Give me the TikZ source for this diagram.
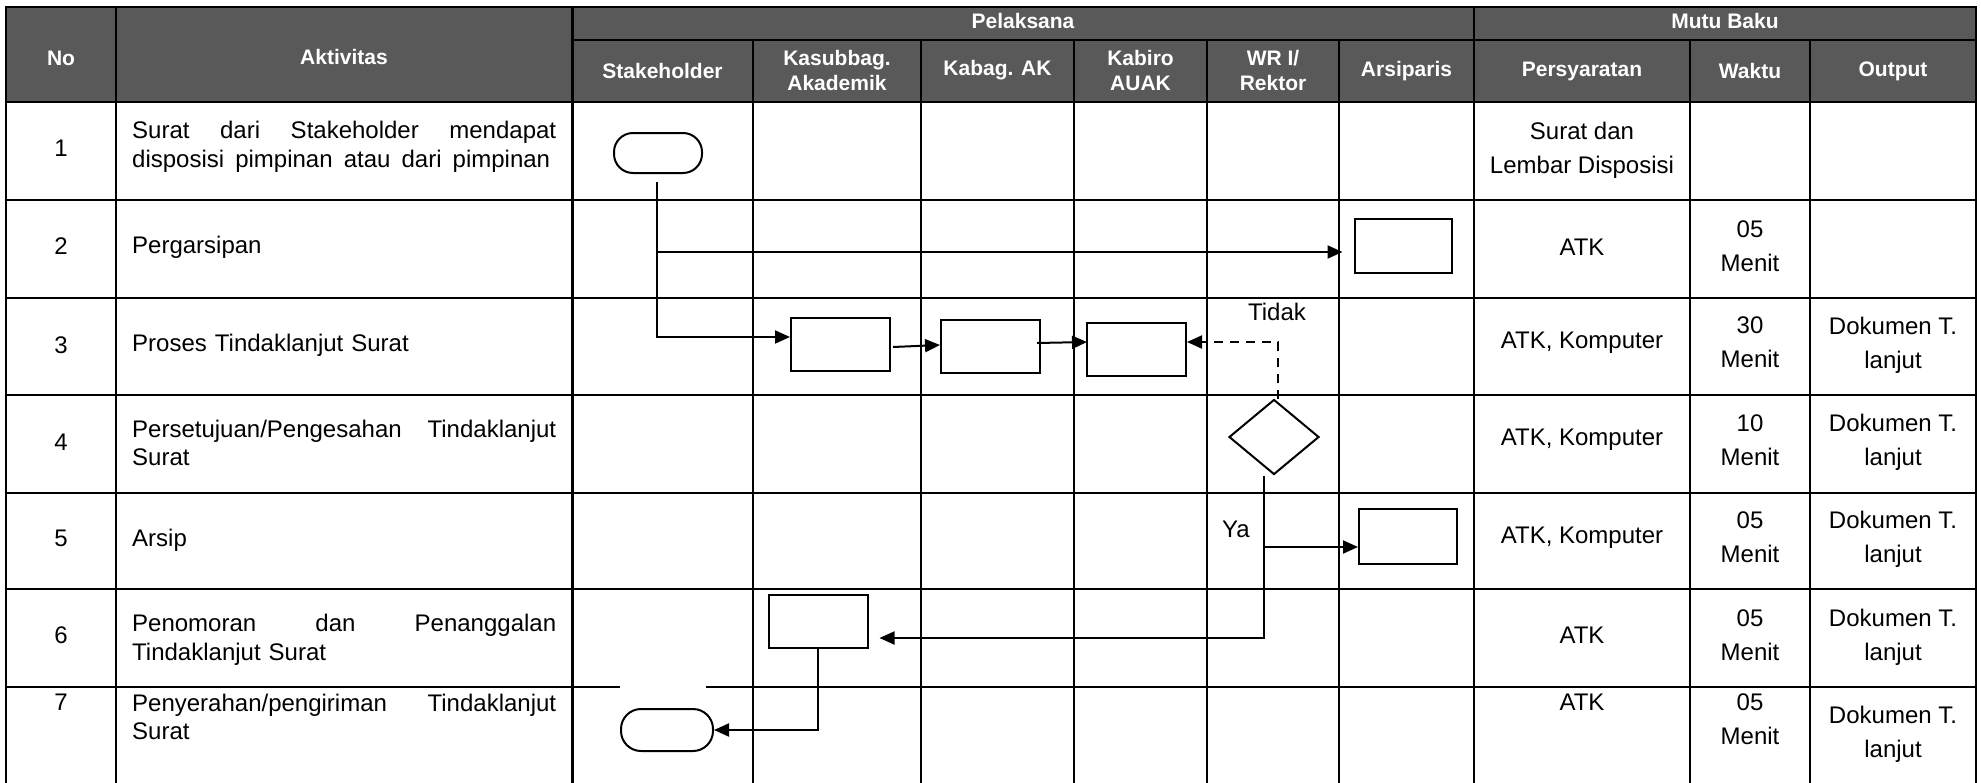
\documentclass[tikz,border=0pt]{standalone}
\usepackage{fontspec}
\setmainfont{Liberation Sans}
\usetikzlibrary{arrows.meta,shapes.geometric,calc}
\definecolor{hdr}{RGB}{89,89,89}
\newcommand{\spreadline}[2]{\leavevmode\hbox to #1{#2}}
\tikzset{
  grid/.style={line width=2.2pt, black, line cap=rect},
  hd/.style={text=white, font=\fontsize{21}{25}\selectfont\bfseries, align=center, inner sep=0pt},
  bd/.style={font=\fontsize{24}{34}\selectfont, align=center, inner sep=0pt},
  act/.style={font=\fontsize{24}{28.5}\selectfont, align=left, text width=424pt, anchor=west, inner sep=0pt},
  proc/.style={draw, line width=2pt, minimum width=99pt, minimum height=53pt, inner sep=0pt},
  term/.style={draw, line width=2pt, rounded corners=19pt, minimum width=88pt, minimum height=40pt, inner sep=0pt},
  dec/.style={draw, diamond, line width=2pt, minimum width=90pt, minimum height=75pt, inner sep=0pt},
  link/.style={line width=2pt},
  flow/.style={line width=2pt, -{Triangle[length=15pt,width=13pt]}},
  dsh/.style={line width=2pt, dash pattern=on 9pt off 7pt},
}
\begin{document}
\begin{tikzpicture}[x=1pt, y=-1pt]
\useasboundingbox (0,0) rectangle (1981,782);

% header band
\fill[hdr] (6,7) rectangle (1976,102);

% table rules
\foreach \y in {7,102,200,298,395,493,589,687}
  \draw[grid] (6,\y) -- (1976,\y);
\draw[grid] (572.5,40) -- (1976,40);
\foreach \x in {6,116,572.5,1474,1976}
  \draw[grid] (\x,7) -- (\x,782);
\foreach \x in {753,921,1074,1207,1339,1690,1810}
  \draw[grid] (\x,40) -- (\x,782);
% break in the rule above row 7
\draw[white, line width=3.4pt] (620,687) -- (706,687);

% header texts
\node[hd] (hNo)  at (61,58)    {No};
\node[hd] (hAkt) at (344,57)   {Aktivitas};
\node[hd] (hPel) at (1023,21) {Pelaksana};
\node[hd] (hMut) at (1725,21) {Mutu Baku};
\node[hd] (hSt)  at (662.5,71) {Stakeholder};
\node[hd] (hKs)  at (837,70)   {Kasubbag.\\Akademik};
\node[hd] (hKb)  at (997.5,70) {Kabag. AK};
\node[hd] (hKr)  at (1140.5,70) {Kabiro\\AUAK};
\node[hd] (hWr)  at (1273,70)  {WR I/\\Rektor};
\node[hd] (hAr)  at (1406.5,71) {Arsiparis};
\node[hd] (hPs)  at (1582,71)  {Persyaratan};
\node[hd] (hWk)  at (1750,71)  {Waktu};
\node[hd] (hOu)  at (1893,71)  {Output};

% row numbers
\node[bd] (n1) at (61,148) {1};
\node[bd] (n2) at (61,246) {2};
\node[bd] (n3) at (61,345) {3};
\node[bd] (n4) at (61,442) {4};
\node[bd] (n5) at (61,538) {5};
\node[bd] (n6) at (61,635) {6};
\node[bd] (n7) at (61,702) {7};

% activities
\node[act] (a1) at (132,147) {\spreadline{424pt}{Surat\hfill dari\hfill Stakeholder\hfill mendapat}\\\spreadline{418pt}{disposisi\hfill pimpinan\hfill atau\hfill dari\hfill pimpinan}};
\node[act] (a2) at (132,247) {Pergarsipan};
\node[act] (a3) at (132,345) {Proses Tindaklanjut Surat};
\node[act] (a4) at (132,443) {\spreadline{424pt}{Persetujuan/Pengesahan\hfill Tindaklanjut}\\Surat};
\node[act] (a5) at (132,540) {Arsip};
\node[act] (a6) at (132,640) {\spreadline{424pt}{Penomoran\hfill dan\hfill Penanggalan}\\Tindaklanjut Surat};
\node[act] (a7) at (132,717) {\spreadline{424pt}{Penyerahan/pengiriman\hfill Tindaklanjut}\\Surat};

% requirements
\node[bd] (p1) at (1582,150.5) {Surat dan\\Lembar Disposisi};
\node[bd] (p2) at (1582,247) {ATK};
\node[bd] (p3) at (1582,343) {ATK, Komputer};
\node[bd] (p4) at (1582,440) {ATK, Komputer};
\node[bd] (p5) at (1582,538) {ATK, Komputer};
\node[bd] (p6) at (1582,635) {ATK};
\node[bd] (p7) at (1582,702) {ATK};

% time
\node[bd] (w2) at (1750,246)   {05\\Menit};
\node[bd] (w3) at (1750,342.5) {30\\Menit};
\node[bd] (w4) at (1750,440)   {10\\Menit};
\node[bd] (w5) at (1750,537.5) {05\\Menit};
\node[bd] (w6) at (1750,635.5) {05\\Menit};
\node[bd] (w7) at (1750,719.5) {05\\Menit};

% output
\node[bd] (o3) at (1893,345)   {Dokumen T.\\lanjut};
\node[bd] (o4) at (1893,442)   {Dokumen T.\\lanjut};
\node[bd] (o5) at (1893,539.5) {Dokumen T.\\lanjut};
\node[bd] (o6) at (1893,637.5) {Dokumen T.\\lanjut};
\node[bd] (o7) at (1893,734.5) {Dokumen T.\\lanjut};

% flow shapes
\node[term] (T1) at (658,153) {};
\node[proc, minimum width=97pt, minimum height=54pt] (A1) at (1403,246) {};
\node[proc] (K1) at (840.5,344.5) {};
\node[proc] (B2) at (990.5,346.5) {};
\node[proc] (B3) at (1136.5,349.5) {};
\node[dec] (D) at (1274,437) {};
\node[proc, minimum width=98pt, minimum height=55pt] (A2) at (1408,536.5) {};
\node[proc] (K6) at (818,621.5) {};
\node[term, minimum width=92pt, minimum height=42pt, rounded corners=20pt] (T2) at (667,730) {};

% branch labels
\node[bd] (lTidak) at (1277,312) {Tidak};
\node[bd] (lYa) at (1236,529) {Ya};

% junction points
\coordinate (j2) at (657,252);
\coordinate (j3) at (657,337);
\coordinate (dk) at (1278,342);
\coordinate (yj) at (1264,547);
\coordinate (kj) at (1264,638);

% connectors
\draw[flow, shorten <=8pt] (T1.south -| j3) -- (j3) -- (j3 -| K1.west);
\draw[flow, shorten >=11pt] (j2) -- (j2 -| A1.west);
\draw[flow] ($(K1.east)+(2,2.5)$) -- ($(B2.west)+(0,-1.5)$);
\draw[flow] ($(B2.east)+(-4,-3.5)$) -- ($(B3.west)+(1,-7.5)$);
\draw[dsh, -{Triangle[length=15pt,width=13pt]}] ([xshift=4pt]D.north) -- (dk) -- (dk -| B3.east);
\draw[link] (yj |- D.south) -- (yj);
\draw[flow] (yj) -- (yj -| A2.west);
\draw[flow, shorten >=11pt] (yj) -- (kj) -- (kj -| K6.east);
\draw[flow] (K6.south) -- (K6.south |- T2.east) -- (T2.east);
\end{tikzpicture}
\end{document}
